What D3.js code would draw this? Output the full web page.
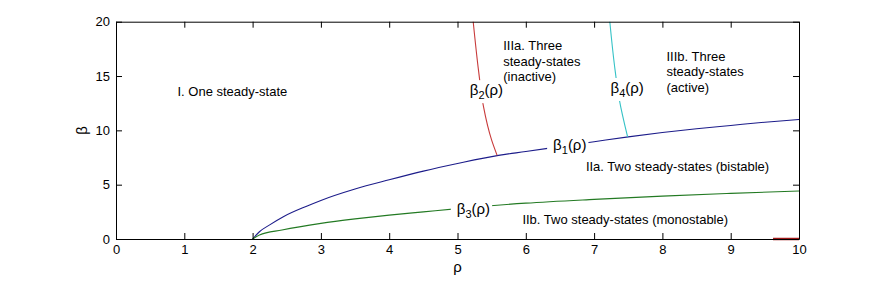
<!DOCTYPE html>
<html><head><meta charset="utf-8">
<script src="https://cdn.jsdelivr.net/npm/d3@7"></script>
<style>body{margin:0;background:#fff}svg{display:block}text{font-family:"Liberation Sans",Arial,sans-serif}</style>
</head><body><svg id="c" width="884" height="282"></svg>
<script>
// ---- data ----
const xTicks = [0,1,2,3,4,5,6,7,8,9,10];
const yTicks = [0,5,10,15,20];
const beta1Rho = [2,2.1,2.25,2.45,2.8,3,3.5,4,4.5,5,5.6,6,6.5,7,7.5,8,8.5,9,9.5,10];
const beta1Val = [0,0.67,1.3,2.05,3.04,3.55,4.6,5.45,6.25,6.95,7.7,8.05,8.5,8.95,9.4,9.8,10.15,10.45,10.75,11.0];
const beta3Rho = [2,2.1,2.43,3,3.5,4,4.5,5,6,7,8,9,10];
const beta3Val = [0,0.37,0.83,1.44,1.85,2.2,2.5,2.8,3.3,3.65,3.95,4.2,4.42];
const beta2Rho = [5.23,5.31,5.38,5.5,5.58];
const beta2Val = [20,15.4,12.2,9.1,7.7];
const beta4Rho = [7.23,7.30,7.37,7.49];
const beta4Val = [20,15.9,12.8,9.41];
const beta2LowRho = [9.62,10];
const beta2LowVal = [0,0];
const curveLabels = [
  {sub:"1", x:6.40, y:8.65},
  {sub:"2", x:5.18, y:13.7},
  {sub:"4", x:7.24, y:13.9},
  {sub:"3", x:4.99, y:2.75}
];
const regionLabels = [
  {lines:["I. One steady-state"], x:0.9, y:13.2},
  {lines:["IIIa. Three","steady-states","(inactive)"], x:5.67, y:17.35},
  {lines:["IIIb. Three","steady-states","(active)"], x:8.06, y:16.4},
  {lines:["IIa. Two steady-states (bistable)"], x:6.88, y:6.29},
  {lines:["IIb. Two steady-states (monostable)"], x:5.95, y:1.37}
];

// ---- layout ----
const L=116, R=799, T=21.7, B=239;
const x = d3.scaleLinear().domain([0,10]).range([L,R]);
const y = d3.scaleLinear().domain([0,20]).range([B,T]);
const svg = d3.select("#c");

const line = d3.line().x(d=>x(d[0])).y(d=>y(d[1])).curve(d3.curveMonotoneX);
const lineY = d3.line().x(d=>x(d[0])).y(d=>y(d[1])).curve(d3.curveMonotoneY);
const zip=(a,b)=>a.map((v,i)=>[v,b[i]]);
const gPlot = svg.append("g");
gPlot.append("path").attr("d",line(zip(beta1Rho,beta1Val))).attr("fill","none").attr("stroke","#1c1c8a").attr("stroke-width",1.1);
gPlot.append("path").attr("d",line(zip(beta3Rho,beta3Val))).attr("fill","none").attr("stroke","#237a23").attr("stroke-width",1.1);
gPlot.append("path").attr("d",lineY(zip(beta2Rho,beta2Val))).attr("fill","none").attr("stroke","#c83a3a").attr("stroke-width",1.1);
gPlot.append("path").attr("d",lineY(zip(beta4Rho,beta4Val))).attr("fill","none").attr("stroke","#35c2c6").attr("stroke-width",1.1);
gPlot.append("path").attr("d",d3.line().x(d=>x(d[0])).y(d=>y(d[1]))(zip(beta2LowRho,beta2LowVal))).attr("fill","none").attr("stroke","#a01818").attr("stroke-width",2.5);

// curve labels with white background to break lines
curveLabels.forEach(c=>{
  const g = svg.append("g");
  const t = g.append("text").attr("x",x(c.x)).attr("y",y(c.y)+5).attr("font-size",15).attr("fill","#000");
  t.append("tspan").text("β");
  t.append("tspan").attr("font-size",11).attr("dy",4).text(c.sub);
  t.append("tspan").attr("dy",-4).text("(ρ)");
  const bb = t.node().getBBox();
  g.insert("rect","text").attr("x",bb.x-6).attr("y",bb.y-1).attr("width",bb.width+8).attr("height",bb.height+3).attr("fill","#fff");
});

// region labels
regionLabels.forEach(r=>{
  const t = svg.append("text").attr("x",x(r.x)).attr("y",y(r.y)).attr("font-size",13).attr("fill","#000");
  r.lines.forEach((s,i)=>t.append("tspan").attr("x",x(r.x)).attr("dy",i?15.5:0).text(s));
});

// axes box
const axG = svg.append("g");
axG.append("g").attr("transform",`translate(0,${B})`)
  .call(d3.axisBottom(x).tickValues(xTicks).tickSizeInner(-6).tickSizeOuter(0).tickPadding(6));
axG.append("g").attr("transform",`translate(0,${T})`)
  .call(d3.axisTop(x).tickValues(xTicks).tickSizeInner(-6).tickSizeOuter(0).tickFormat(""));
axG.append("g").attr("transform",`translate(${L},0)`)
  .call(d3.axisLeft(y).tickValues(yTicks).tickSizeInner(-6).tickSizeOuter(0).tickPadding(6));
axG.append("g").attr("transform",`translate(${R},0)`)
  .call(d3.axisRight(y).tickValues(yTicks).tickSizeInner(-6).tickSizeOuter(0).tickFormat(""));
axG.selectAll(".domain").attr("stroke","#000");
axG.selectAll(".tick line").attr("stroke","#000");
axG.selectAll(".tick text").attr("font-size",13).attr("font-family","Liberation Sans, Arial, sans-serif").attr("fill","#000");

// axis labels
svg.append("text").attr("x",(L+R)/2).attr("y",272).attr("text-anchor","middle").attr("font-size",15).text("ρ");
svg.append("text").attr("transform",`translate(87,${(T+B)/2}) rotate(-90)`).attr("text-anchor","middle").attr("font-size",15).text("β");
</script></body></html>
